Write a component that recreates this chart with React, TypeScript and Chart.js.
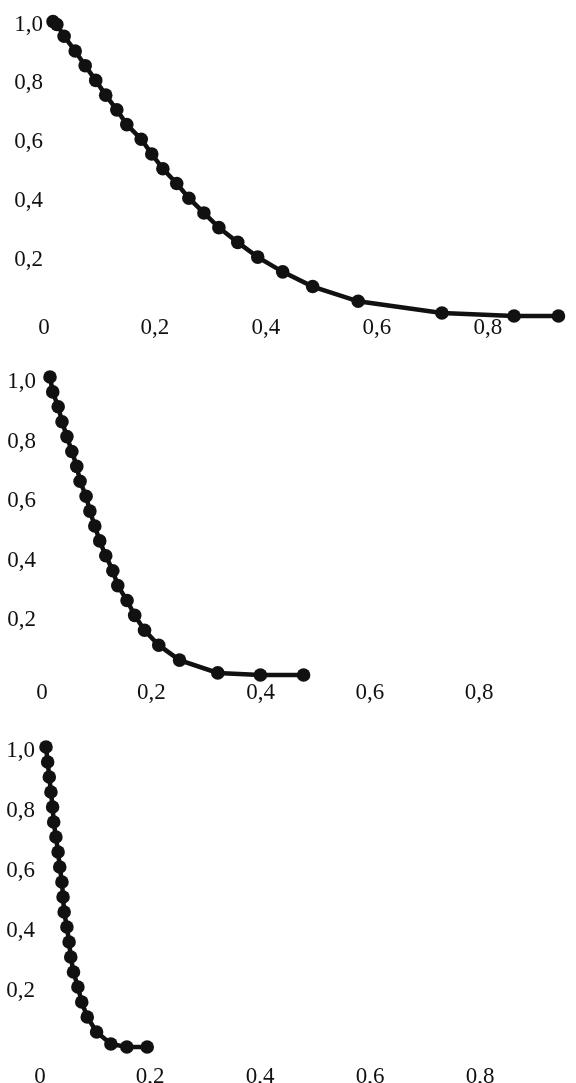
import React, { useEffect, useRef } from 'react';
import { Chart, registerables } from 'chart.js';

Chart.register(...registerables);

// Shared tick values and labels
const xTicks = [0, 0.2, 0.4, 0.6, 0.8];
const xTickLabels = ['0', '0,2', '0,4', '0,6', '0,8'];
const yTicks = [0.2, 0.4, 0.6, 0.8, 1.0];
const yTickLabels = ['0,2', '0,4', '0,6', '0,8', '1,0'];

// Panel 1 (top)
const panel1X = [0, 0.007, 0.020, 0.040, 0.058, 0.077, 0.095, 0.115, 0.133, 0.159, 0.178, 0.198, 0.223, 0.245, 0.272, 0.299, 0.333, 0.369, 0.414, 0.468, 0.550, 0.701, 0.831, 0.911];
const panel1Y = [1.0, 0.99, 0.95, 0.90, 0.85, 0.80, 0.75, 0.70, 0.65, 0.60, 0.55, 0.50, 0.45, 0.40, 0.35, 0.30, 0.25, 0.20, 0.15, 0.10, 0.05, 0.01, 0.0, 0.0];

// Panel 2 (middle)
const panel2X = [0, 0.005, 0.015, 0.022, 0.031, 0.040, 0.049, 0.055, 0.066, 0.073, 0.082, 0.091, 0.102, 0.115, 0.124, 0.141, 0.155, 0.173, 0.199, 0.237, 0.307, 0.385, 0.464];
const panel2Y = [1.0, 0.95, 0.90, 0.85, 0.80, 0.75, 0.70, 0.65, 0.60, 0.55, 0.50, 0.45, 0.40, 0.35, 0.30, 0.25, 0.20, 0.15, 0.10, 0.05, 0.007, 0.0, 0.0];

// Panel 3 (bottom)
const panel3X = [0, 0.003, 0.006, 0.009, 0.012, 0.014, 0.018, 0.022, 0.025, 0.029, 0.031, 0.033, 0.038, 0.042, 0.045, 0.050, 0.058, 0.065, 0.075, 0.092, 0.118, 0.147, 0.184];
const panel3Y = [1.0, 0.95, 0.90, 0.85, 0.80, 0.75, 0.70, 0.65, 0.60, 0.55, 0.50, 0.45, 0.40, 0.35, 0.30, 0.25, 0.20, 0.15, 0.10, 0.05, 0.01, 0.0, 0.0];

const FONT = '"Liberation Serif", "Times New Roman", serif';
const INK = '#111111';

type Layout = {
  height: number;
  top: number;
  left: number;
  right: number;
  xMax: number;
  xAxisH: number;
  xPad: number;
  xOff: number;
  yPad: number;
  yOff: number;
};

const layouts: Layout[] = [
  { height: 350, top: 16, left: 53, right: 7, xMax: 0.93, xAxisH: 34, xPad: 0, xOff: -9, yPad: 10, yOff: 3 },
  { height: 360, top: 27, left: 50, right: 5.4, xMax: 0.95, xAxisH: 35, xPad: 6, xOff: -8, yPad: 14, yOff: 5 },
  { height: 373, top: 37, left: 46, right: 7.5, xMax: 0.95, xAxisH: 36, xPad: 18, xOff: -6, yPad: 11, yOff: 4 },
];

function makeConfig(xs: number[], ys: number[], p: Layout): any {
  return {
    type: 'line',
    data: {
      datasets: [
        {
          data: xs.map((x, i) => ({ x, y: ys[i] })),
          borderColor: INK,
          backgroundColor: INK,
          borderWidth: 4.5,
          pointRadius: 6.8,
          pointBackgroundColor: INK,
          pointBorderColor: INK,
          pointBorderWidth: 0,
          tension: 0,
          clip: false,
        },
      ],
    },
    options: {
      animation: false,
      responsive: false,
      events: [],
      layout: { padding: { top: p.top, left: 0, right: p.right, bottom: 0 } },
      plugins: { legend: { display: false }, tooltip: { enabled: false } },
      scales: {
        x: {
          type: 'linear',
          min: 0,
          max: p.xMax,
          afterFit: (s: any) => {
            s.height = p.xAxisH;
          },
          afterBuildTicks: (s: any) => {
            s.ticks = xTicks.map((v) => ({ value: v }));
          },
          grid: { display: false, drawTicks: false },
          border: { display: false },
          ticks: {
            autoSkip: false,
            maxRotation: 0,
            minRotation: 0,
            padding: p.xPad,
            labelOffset: p.xOff,
            color: INK,
            font: { family: FONT, size: 23, lineHeight: 1 },
            callback: (_v: any, i: number) => xTickLabels[i],
          },
        },
        y: {
          type: 'linear',
          min: 0,
          max: 1,
          afterFit: (s: any) => {
            s.width = p.left;
          },
          afterBuildTicks: (s: any) => {
            s.ticks = yTicks.map((v) => ({ value: v }));
          },
          grid: { display: false, drawTicks: false },
          border: { display: false },
          ticks: {
            autoSkip: false,
            padding: p.yPad,
            labelOffset: p.yOff,
            color: INK,
            font: { family: FONT, size: 23, lineHeight: 1 },
            callback: (_v: any, i: number) => yTickLabels[i],
          },
        },
      },
    },
  };
}

function Panel({ xs, ys, layout }: { xs: number[]; ys: number[]; layout: Layout }) {
  const ref = useRef<HTMLCanvasElement | null>(null);
  useEffect(() => {
    if (!ref.current) return;
    const chart = new Chart(ref.current, makeConfig(xs, ys, layout));
    return () => chart.destroy();
  }, [xs, ys, layout]);
  return (
    <canvas
      ref={ref}
      width={576}
      height={layout.height}
      style={{ display: 'block', width: 576, height: layout.height }}
    />
  );
}

export default function App() {
  useEffect(() => {
    document.body.style.margin = '0';
    document.body.style.background = '#ffffff';
  }, []);
  return (
    <div style={{ width: 576, height: 1083, background: '#fff', overflow: 'hidden' }}>
      <Panel xs={panel1X} ys={panel1Y} layout={layouts[0]} />
      <Panel xs={panel2X} ys={panel2Y} layout={layouts[1]} />
      <Panel xs={panel3X} ys={panel3Y} layout={layouts[2]} />
    </div>
  );
}
